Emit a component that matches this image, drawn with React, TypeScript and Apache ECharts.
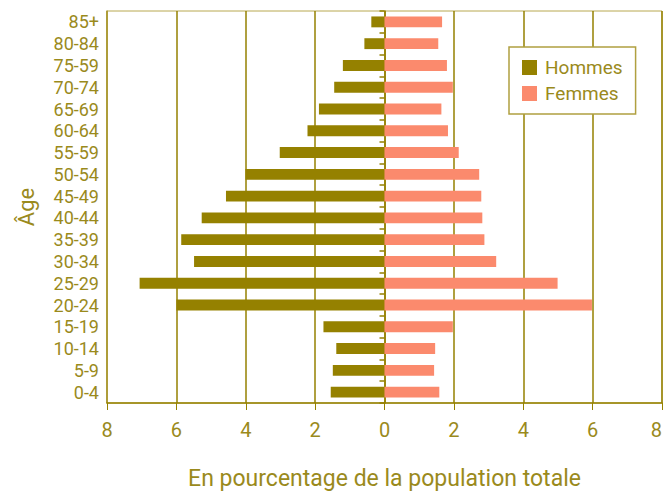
import React, { useEffect, useRef } from "react";
import * as echarts from "echarts";

const ageGroups = ["0-4", "5-9", "10-14", "15-19", "20-24", "25-29", "30-34", "35-39", "40-44", "45-49", "50-54", "55-59", "60-64", "65-69", "70-74", "75-59", "80-84", "85+"];
const hommes = [1.55, 1.49, 1.39, 1.76, 6.0, 7.06, 5.49, 5.86, 5.27, 4.57, 4.01, 3.02, 2.22, 1.89, 1.45, 1.2, 0.58, 0.38];
const femmes = [1.58, 1.43, 1.46, 1.97, 5.98, 4.99, 3.22, 2.88, 2.82, 2.79, 2.73, 2.14, 1.83, 1.64, 1.97, 1.8, 1.55, 1.66];
const xTicks = [-8, -6, -4, -2, 0, 2, 4, 6, 8];

const OLIVE = "#958100";
const TEXT = "#9a8a1c";
const SALMON = "#fb8a6d";
const FONT = "Roboto, 'Liberation Sans Narrow', sans-serif";

export default function App() {
  const ref = useRef<HTMLDivElement>(null);
  useEffect(() => {
    const chart = echarts.init(ref.current!, null, { renderer: "svg" });
    chart.setOption({
      animation: false,
      textStyle: { fontFamily: FONT },
      grid: { left: 107, right: 1, top: 11, bottom: 90, show: true, borderColor: "#b8a850", borderWidth: 1, containLabel: false, outerBoundsMode: "none" },
      legend: {
        orient: "vertical",
        left: 509,
        top: 47,
        padding: [11, 13, 11, 13],
        itemWidth: 15,
        itemHeight: 15,
        itemGap: 7,
        borderColor: "#b0a040",
        borderWidth: 1.5,
        backgroundColor: "#fff",
        textStyle: { color: TEXT, fontSize: 19, fontFamily: FONT, padding: [0, 0, 0, 3] },
        icon: "rect",
        data: ["Hommes", "Femmes"],
      },
      xAxis: {
        type: "value",
        min: xTicks[0],
        max: xTicks[xTicks.length - 1],
        interval: 2,
        axisLine: { show: true, lineStyle: { color: OLIVE, width: 1.5 } },
        axisTick: { show: true, length: 7, lineStyle: { color: OLIVE } },
        axisLabel: { color: TEXT, fontSize: 20, margin: 17, fontFamily: FONT, alignMaxLabel: "right", formatter: (v: number) => String(Math.abs(v)) },
        splitLine: { show: true, lineStyle: { color: OLIVE, width: 1.5 } },
        name: "En pourcentage de la population totale",
        nameLocation: "middle",
        nameGap: 64,
        nameTextStyle: { color: TEXT, fontSize: 23, fontFamily: FONT },
      },
      yAxis: [
        {
          type: "category",
          data: ageGroups,
          position: "left",
          axisLine: { show: true, onZero: false, lineStyle: { color: "#b0a040", width: 1.5 } },
          axisTick: { show: false },
          axisLabel: { color: TEXT, fontSize: 18, margin: 8, fontFamily: FONT, interval: 0 },
          name: "Âge",
          nameLocation: "middle",
          nameRotate: 90,
          nameGap: 70,
          nameTextStyle: { color: TEXT, fontSize: 22, fontFamily: FONT },
        },
        {
          type: "category",
          data: ageGroups,
          position: "left",
          axisLine: { show: true, onZero: true, lineStyle: { color: OLIVE, width: 1.5 } },
          axisTick: { show: true, length: 5, interval: 0, lineStyle: { color: OLIVE, width: 1.5 } },
          axisLabel: { show: false },
          splitLine: { show: false },
        },
      ],
      series: [
        {
          name: "Hommes",
          type: "bar",
          stack: "total",
          barWidth: "50%",
          itemStyle: { color: OLIVE },
          data: hommes.map((v) => -v),
        },
        {
          name: "Femmes",
          type: "bar",
          stack: "total",
          barWidth: "50%",
          itemStyle: { color: SALMON },
          data: femmes,
        },
      ],
    });
    return () => chart.dispose();
  }, []);
  return <div ref={ref} style={{ width: 663, height: 493, position: "absolute", left: 0, top: 0 }} />;
}
